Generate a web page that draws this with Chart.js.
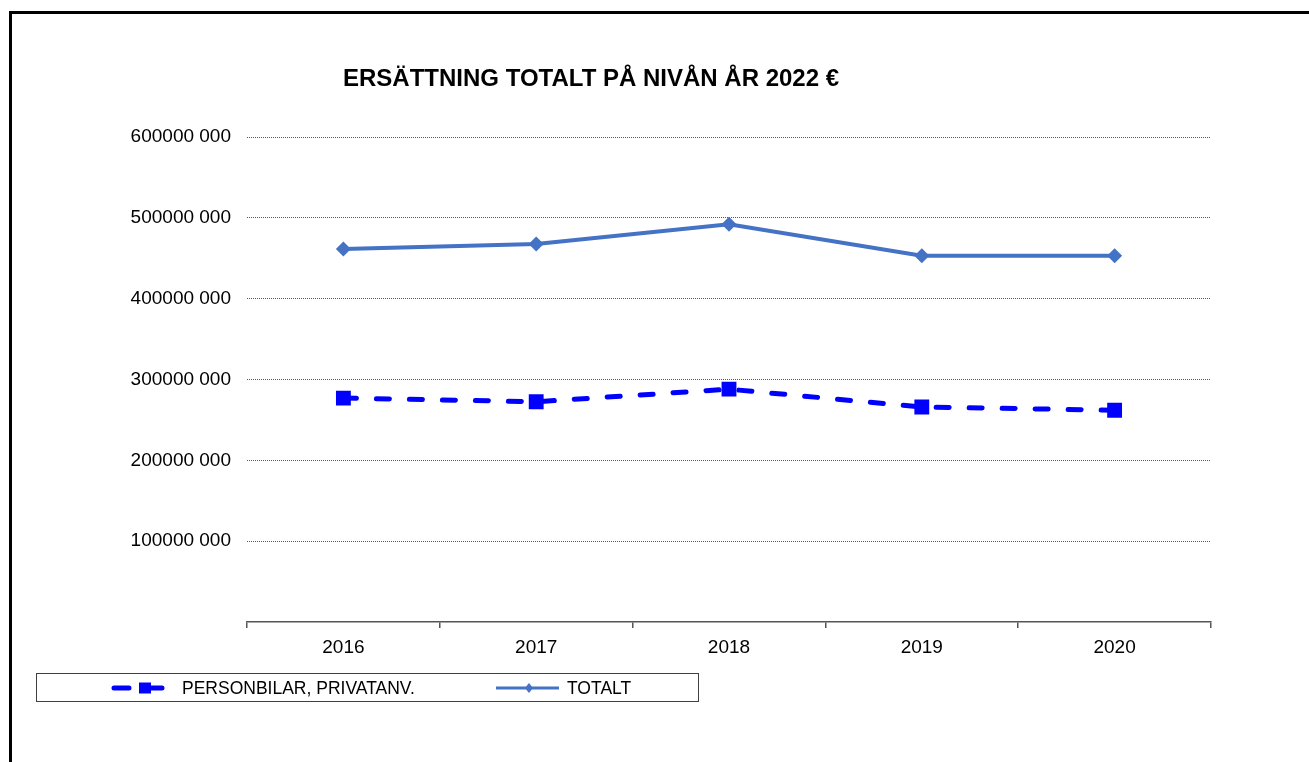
<!DOCTYPE html>
<html>
<head>
<meta charset="utf-8">
<script src="https://cdn.jsdelivr.net/npm/chart.js@4"></script>
<style>
  html, body { margin: 0; padding: 0; background: #fff; overflow: hidden; }
  #wrap { position: relative; width: 1309px; height: 762px; }
  #frame { position: absolute; left: 9px; top: 11px; right: -10px; bottom: -10px;
           border-left: 3px solid #000; border-top: 3px solid #000; }
  canvas { position: absolute; left: 0; top: 0; }
</style>
</head>
<body>
<div id="wrap">
  <div id="frame"></div>
  <canvas id="chart" width="1309" height="762"></canvas>
</div>
<script>
const years = ['2016', '2017', '2018', '2019', '2020'];
const personbilar = [277000000, 272500000, 288000000, 266000000, 262000000];
const totalt = [461500000, 467500000, 492000000, 453000000, 453000000];
const yTickLabels = ['', '100000 000', '200000 000', '300000 000', '400000 000', '500000 000', '600000 000'];
const titleText = 'ERSÄTTNING TOTALT PÅ NIVÅN ÅR 2022 €';

const FONT = "'Liberation Sans', Arial, sans-serif";

// title and the boxed legend, drawn the way the original sheet had them
const decorPlugin = {
    id: 'decor',
    afterDraw(chart) {
        const ctx = chart.ctx;
        ctx.save();
        ctx.fillStyle = '#000';
        ctx.font = 'bold 24px ' + FONT;
        ctx.textBaseline = 'alphabetic';
        ctx.textAlign = 'left';
        ctx.fillText(titleText, 343, 86);

        // legend box
        ctx.strokeStyle = '#404040';
        ctx.lineWidth = 1;
        ctx.strokeRect(36.5, 673.5, 662, 28);

        const ds = chart.data.datasets;
        const cy = 688;

        // sample 1: dashed blue with square
        ctx.strokeStyle = ds[0].borderColor;
        ctx.fillStyle = ds[0].borderColor;
        ctx.lineWidth = 5;
        ctx.lineCap = 'round';
        ctx.beginPath();
        ctx.moveTo(114, cy); ctx.lineTo(129, cy);
        ctx.moveTo(145, cy); ctx.lineTo(162, cy);
        ctx.stroke();
        ctx.fillRect(139, cy - 5.5, 12, 11);

        // sample 2: solid line with diamond
        ctx.strokeStyle = ds[1].borderColor;
        ctx.fillStyle = ds[1].borderColor;
        ctx.lineWidth = 3;
        ctx.lineCap = 'butt';
        ctx.beginPath();
        ctx.moveTo(496, cy); ctx.lineTo(559, cy);
        ctx.stroke();
        ctx.beginPath();
        ctx.moveTo(529, cy - 5); ctx.lineTo(533, cy); ctx.lineTo(529, cy + 5); ctx.lineTo(525, cy);
        ctx.closePath();
        ctx.fill();

        ctx.fillStyle = '#000';
        ctx.font = '17.5px ' + FONT;
        ctx.textBaseline = 'middle';
        ctx.fillText(ds[0].label, 182, cy + 1);
        ctx.fillText(ds[1].label, 567, cy + 1);
        ctx.restore();
    }
};

const ctx = document.getElementById('chart').getContext('2d');
new Chart(ctx, {
    type: 'line',
    data: {
        labels: years,
        datasets: [{
            label: 'PERSONBILAR, PRIVATANV.',
            data: personbilar,
            borderColor: '#0000FF',
            backgroundColor: '#0000FF',
            borderWidth: 5,
            borderDash: [13, 20],
            borderCapStyle: 'round',
            tension: 0,
            pointStyle: 'rect',
            pointRadius: 10.5,
            pointBorderWidth: 0,
            pointBackgroundColor: '#0000FF'
        }, {
            label: 'TOTALT',
            data: totalt,
            borderColor: '#4472C4',
            backgroundColor: '#4472C4',
            borderWidth: 4,
            tension: 0,
            pointStyle: 'rectRot',
            pointRadius: 7.5,
            pointBorderWidth: 0,
            pointBackgroundColor: '#4472C4'
        }]
    },
    options: {
        responsive: false,
        animation: false,
        layout: { padding: { left: 0, right: 98, top: 137, bottom: 100 } },
        plugins: {
            legend: { display: false },
            title: { display: false },
            tooltip: { enabled: false }
        },
        scales: {
            x: {
                offset: true,
                grid: { offset: true, drawOnChartArea: false, drawTicks: true, tickLength: 6, color: '#555', lineWidth: 1.5 },
                border: { display: true, color: '#555', width: 1.5 },
                ticks: { color: '#000', font: { family: FONT, size: 19 }, padding: 8 },
                afterFit: (scale) => { scale.height = 40; }
            },
            y: {
                min: 0,
                max: 600000000,
                grid: { drawTicks: false, color: (c) => c.tick.value === 0 ? 'rgba(0,0,0,0)' : '#555', lineWidth: 1 },
                border: { display: false, dash: [1, 1] },
                ticks: {
                    stepSize: 100000000,
                    color: '#000',
                    font: { family: FONT, size: 19 },
                    padding: 16,
                    callback: (value, index) => yTickLabels[index]
                },
                afterFit: (scale) => { scale.width = 247; }
            }
        }
    },
    plugins: [decorPlugin]
});
</script>
</body>
</html>
